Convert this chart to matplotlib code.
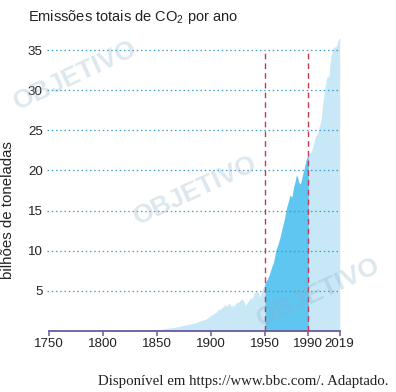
import matplotlib
matplotlib.use("Agg")
import matplotlib.pyplot as plt
import numpy as np

years = [1750, 1760, 1770, 1780, 1790, 1800, 1810, 1820, 1830, 1840, 1850, 1855, 1860, 1865,
         1870, 1875, 1880, 1885, 1890, 1895, 1900, 1903, 1905, 1907, 1908, 1910, 1912, 1913,
         1914, 1916, 1917, 1918, 1919, 1920, 1921, 1923, 1925, 1927, 1929, 1930, 1932, 1934,
         1936, 1937, 1938, 1940, 1942, 1944, 1945, 1946, 1948, 1950, 1952, 1954, 1956, 1958,
         1960, 1962, 1964, 1966, 1968, 1970, 1972, 1973, 1974, 1975, 1976, 1977, 1978, 1979,
         1980, 1981, 1982, 1983, 1984, 1985, 1986, 1987, 1988, 1989, 1990, 1991, 1992, 1993,
         1994, 1995, 1996, 1997, 1998, 1999, 2000, 2001, 2002, 2003, 2004, 2005, 2006, 2007,
         2008, 2009, 2010, 2011, 2012, 2013, 2014, 2015, 2016, 2017, 2018, 2019]
emissions = [0.01, 0.01, 0.02, 0.02, 0.03, 0.03, 0.04, 0.05, 0.07, 0.10, 0.20, 0.25, 0.35, 0.42,
             0.55, 0.70, 0.85, 1.00, 1.25, 1.45, 1.95, 2.2, 2.35, 2.75, 2.6, 2.9, 3.1, 3.45,
             3.05, 3.35, 3.45, 3.3, 2.9, 3.4, 3.0, 3.5, 3.55, 3.8, 4.0, 3.8, 3.2, 3.6,
             4.0, 4.2, 4.0, 4.7, 4.9, 4.8, 4.2, 4.6, 5.3, 6.0, 6.4, 7.0, 7.9, 8.6,
             10.0, 10.8, 11.7, 12.9, 14.0, 15.4, 16.3, 16.9, 16.8, 16.7, 17.6, 18.2, 18.7, 19.4,
             19.2, 18.6, 18.3, 18.4, 19.0, 19.6, 20.1, 20.7, 21.3, 21.7, 22.0, 22.3, 22.2, 22.5,
             22.9, 23.4, 24.0, 24.3, 24.5, 24.8, 25.5, 25.8, 26.5, 27.9, 29.0, 29.9, 30.8, 31.5,
             31.8, 31.5, 33.2, 34.3, 34.7, 35.2, 35.4, 35.4, 35.5, 35.9, 36.4, 36.5]

y_ticks = [5, 10, 15, 20, 25, 30, 35]
x_ticks = [1750, 1800, 1850, 1900, 1950, 1990, 2019]
highlight = [1950, 1990]

title = "Emissões totais de CO$_2$ por ano"
ylabel = "bilhões de toneladas"
source = "Disponível em https://www.bbc.com/. Adaptado."

plt.rcParams['font.family'] = ['Liberation Sans', 'DejaVu Sans']
plt.rcParams['mathtext.fontset'] = 'custom'
plt.rcParams['mathtext.rm'] = 'Liberation Sans'
plt.rcParams['mathtext.it'] = 'Liberation Sans'

fig = plt.figure(figsize=(3.96, 3.92), dpi=100)
W, H = 396, 392

# watermarks
for (wx, wy) in [(75, 75), (195, 190), (318, 292)]:
    fig.text(wx / W, 1 - wy / H, "OBJETIVO", fontsize=19, fontweight='bold', color='#8fb0c8',
             alpha=0.3, rotation=25, ha='center', va='center', zorder=0)

ax = fig.add_axes([47 / W, 61 / H, (340 - 47) / W, (331 - 38) / H])
ax.patch.set_alpha(0)

yrs = np.array(years, dtype=float)
em = np.array(emissions, dtype=float)

ax.fill_between(yrs, 0, em, color='#c8e8f8', linewidth=0, zorder=1)
mask = (yrs >= highlight[0]) & (yrs <= highlight[1])
ax.fill_between(yrs[mask], 0, em[mask], color='#5ec6f0', linewidth=0, zorder=2)

ax.set_xlim(1748.5, 2019.3)
ax.set_ylim(0, 36.5)

for yv in y_ticks:
    ax.axhline(yv, color='#3a9cc8', linestyle=(0, (1.2, 2.2)), linewidth=0.9, zorder=3)

for xv in highlight:
    ax.plot([xv, xv], [0, 35], color='#c23a4e', linestyle=(0, (4, 3)), linewidth=1.0, zorder=4)

for s in ['top', 'right', 'left']:
    ax.spines[s].set_visible(False)
ax.spines['bottom'].set_color('#6a5b9c')
ax.spines['bottom'].set_linewidth(1.3)
ax.spines['bottom'].set_bounds(1750, 2019)

ax.set_yticks(y_ticks)
ax.set_yticklabels([str(v) for v in y_ticks])
ax.set_xticks(x_ticks)
ax.set_xticklabels([str(v) for v in x_ticks])
ax.tick_params(axis='y', length=0, pad=3, labelsize=9.6, labelcolor='#222222')
ax.tick_params(axis='x', length=3.5, width=1.1, color='#6a5b9c', pad=1.5, labelsize=9.6,
               labelcolor='#222222')

fig.text(28 / W, 1 - 17 / H, title, fontsize=10.5, color='#222222', va='center', ha='left')
fig.text(8 / W, 1 - 210 / H, ylabel, fontsize=10.8, color='#222222', rotation=90,
         va='center', ha='center')
fig.text(388 / W, 1 - 381 / H, source, fontsize=10.7, color='#222222', va='center', ha='right',
         family=['Liberation Serif', 'DejaVu Serif'])

fig.savefig("out.png", dpi=100)
